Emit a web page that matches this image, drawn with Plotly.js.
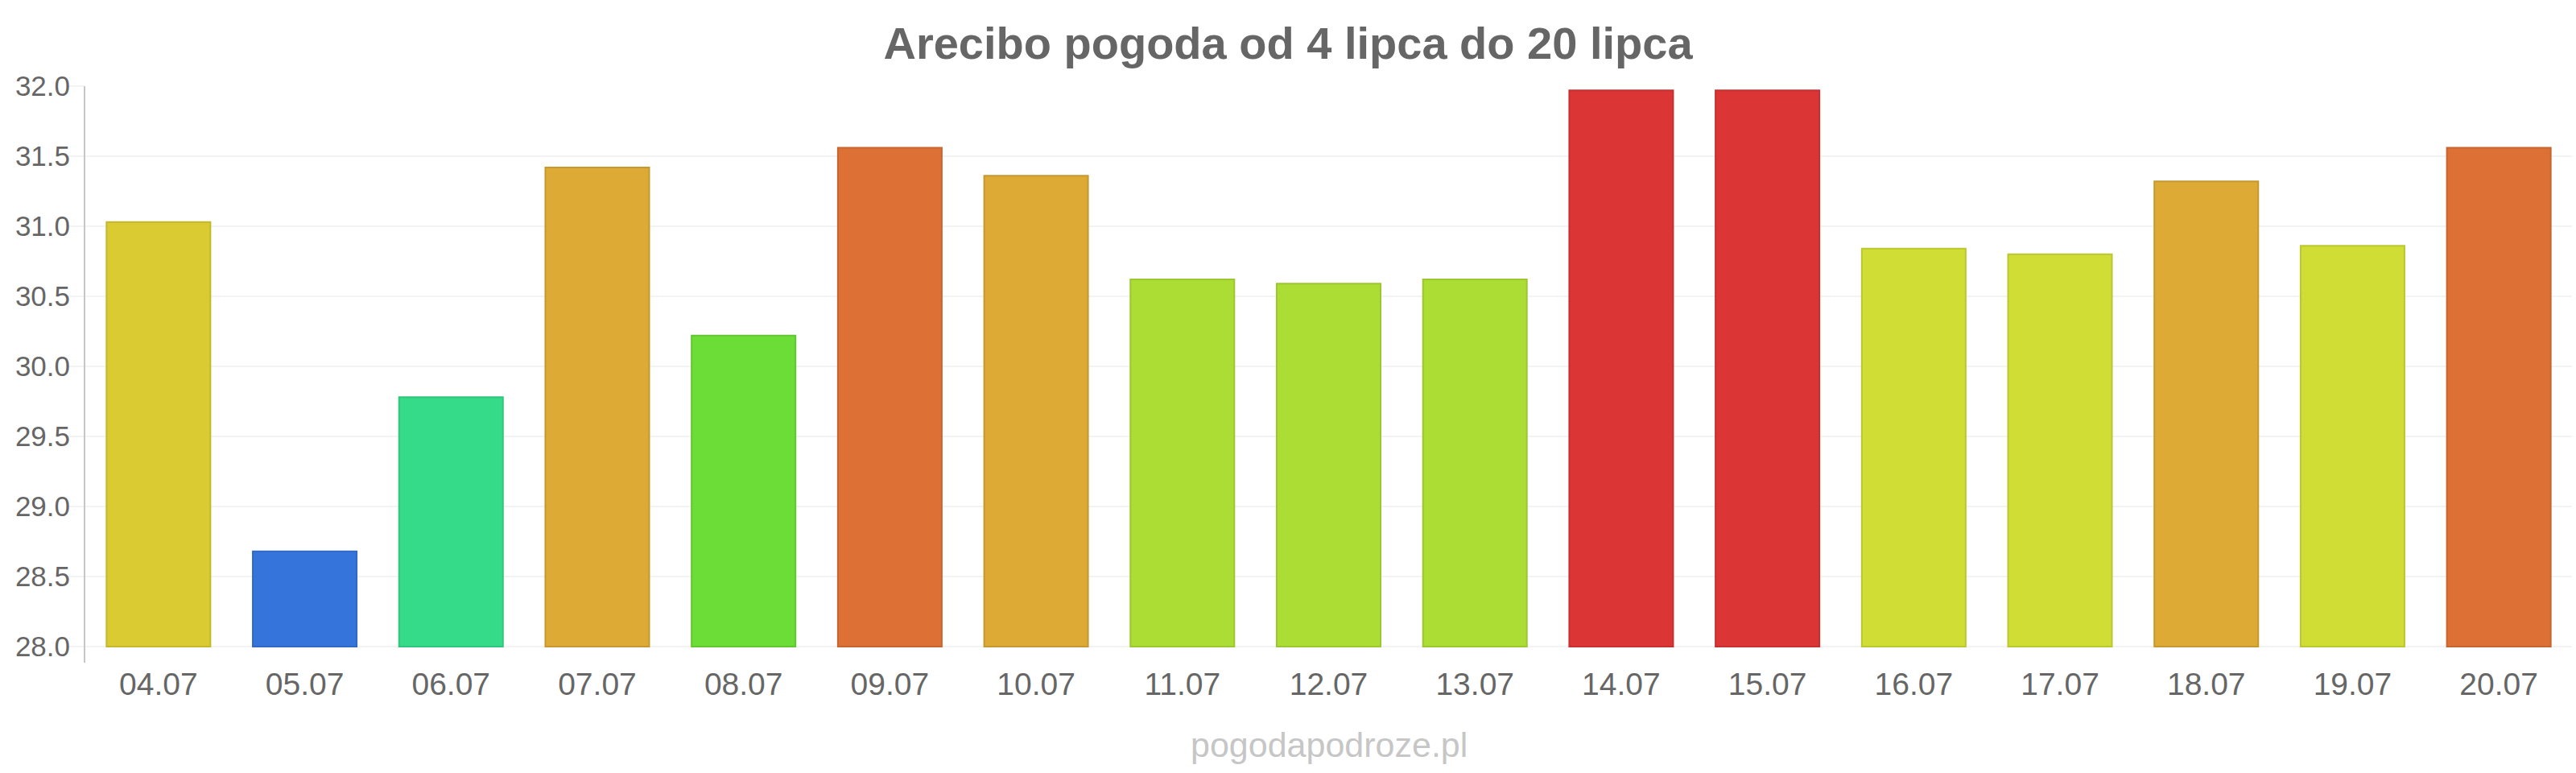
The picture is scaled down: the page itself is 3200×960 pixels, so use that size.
<!DOCTYPE html>
<html>
<head>
<meta charset="utf-8">
<script src="https://cdn.plot.ly/plotly-3.0.1.min.js"></script>
<style>
  html, body { margin: 0; padding: 0; background: #ffffff; }
  #chart { width: 3200px; height: 960px; }
</style>
</head>
<body>
<div id="chart"></div>
<script>
// Daily maximum temperature (°C), Arecibo, 4–20 July
const days = ["04.07", "05.07", "06.07", "07.07", "08.07", "09.07", "10.07", "11.07", "12.07",
              "13.07", "14.07", "15.07", "16.07", "17.07", "18.07", "19.07", "20.07"];
const temps = [31.03, 28.68, 29.78, 31.42, 30.22, 31.56, 31.36, 30.62, 30.59,
               30.62, 31.97, 31.97, 30.84, 30.80, 31.32, 30.86, 31.56];
const yTicks = [28.0, 28.5, 29.0, 29.5, 30.0, 30.5, 31.0, 31.5, 32.0];

// Temperature-scale colour for each bar
const barColors = ["#dbcb33", "#3575db", "#36db8a", "#dcaa35", "#6cdd36", "#dd7035", "#dcaa35",
                   "#acdd35", "#acdd35", "#acdd35", "#dc3535", "#dc3535", "#cfdd35", "#cfdd35",
                   "#dcaa35", "#cfdd35", "#dd7035"];

const baseValue = 28;

function darker(hex, f) {
  const n = parseInt(hex.slice(1), 16);
  const r = Math.round(((n >> 16) & 255) * f);
  const g = Math.round(((n >> 8) & 255) * f);
  const b = Math.round((n & 255) * f);
  return "rgb(" + r + "," + g + "," + b + ")";
}

const font = "Liberation Sans, Arial, sans-serif";

const trace = {
  type: "bar",
  x: days,
  y: temps.map(v => v - baseValue),
  base: baseValue,
  customdata: temps,
  hovertemplate: "%{x}: %{customdata:.1f} °C<extra></extra>",
  marker: {
    color: barColors,
    line: { color: barColors.map(c => darker(c, 0.9)), width: 2 }
  }
};

const layout = {
  width: 3200,
  height: 960,
  paper_bgcolor: "#ffffff",
  plot_bgcolor: "#ffffff",
  margin: { l: 106, r: 5, t: 107, b: 137, pad: 0 },
  bargap: 0.29,
  showlegend: false,
  title: {
    text: "<b>Arecibo pogoda od 4 lipca do 20 lipca</b>",
    x: 0.5,
    xanchor: "center",
    y: 1 - 53 / 960,
    yanchor: "middle",
    font: { family: font, size: 56, color: "#666666" }
  },
  xaxis: {
    type: "category",
    showgrid: false,
    showline: false,
    zeroline: false,
    ticks: "",
    ticklabelstandoff: 0,
    tickfont: { family: font, size: 39, color: "#666666" }
  },
  yaxis: {
    range: [27.885, 32],
    tickvals: yTicks,
    ticktext: yTicks.map(v => v.toFixed(1)),
    showgrid: true,
    gridcolor: "#f3f3f3",
    gridwidth: 2,
    zeroline: false,
    showline: true,
    linecolor: "#c6c6c6",
    linewidth: 2,
    ticks: "outside",
    ticklen: 20,
    tickwidth: 2,
    tickcolor: "#f3f3f3",
    ticklabelstandoff: -10,
    tickfont: { family: font, size: 35, color: "#666666" }
  },
  annotations: [{
    text: "pogodapodroze.pl",
    xref: "paper",
    yref: "paper",
    x: 0.5,
    y: -(925 - 823) / (823 - 107),
    xanchor: "center",
    yanchor: "middle",
    showarrow: false,
    font: { family: font, size: 43, color: "#c6c6c6" }
  }]
};

Plotly.newPlot("chart", [trace], layout, { displayModeBar: false, staticPlot: true });
</script>
</body>
</html>
